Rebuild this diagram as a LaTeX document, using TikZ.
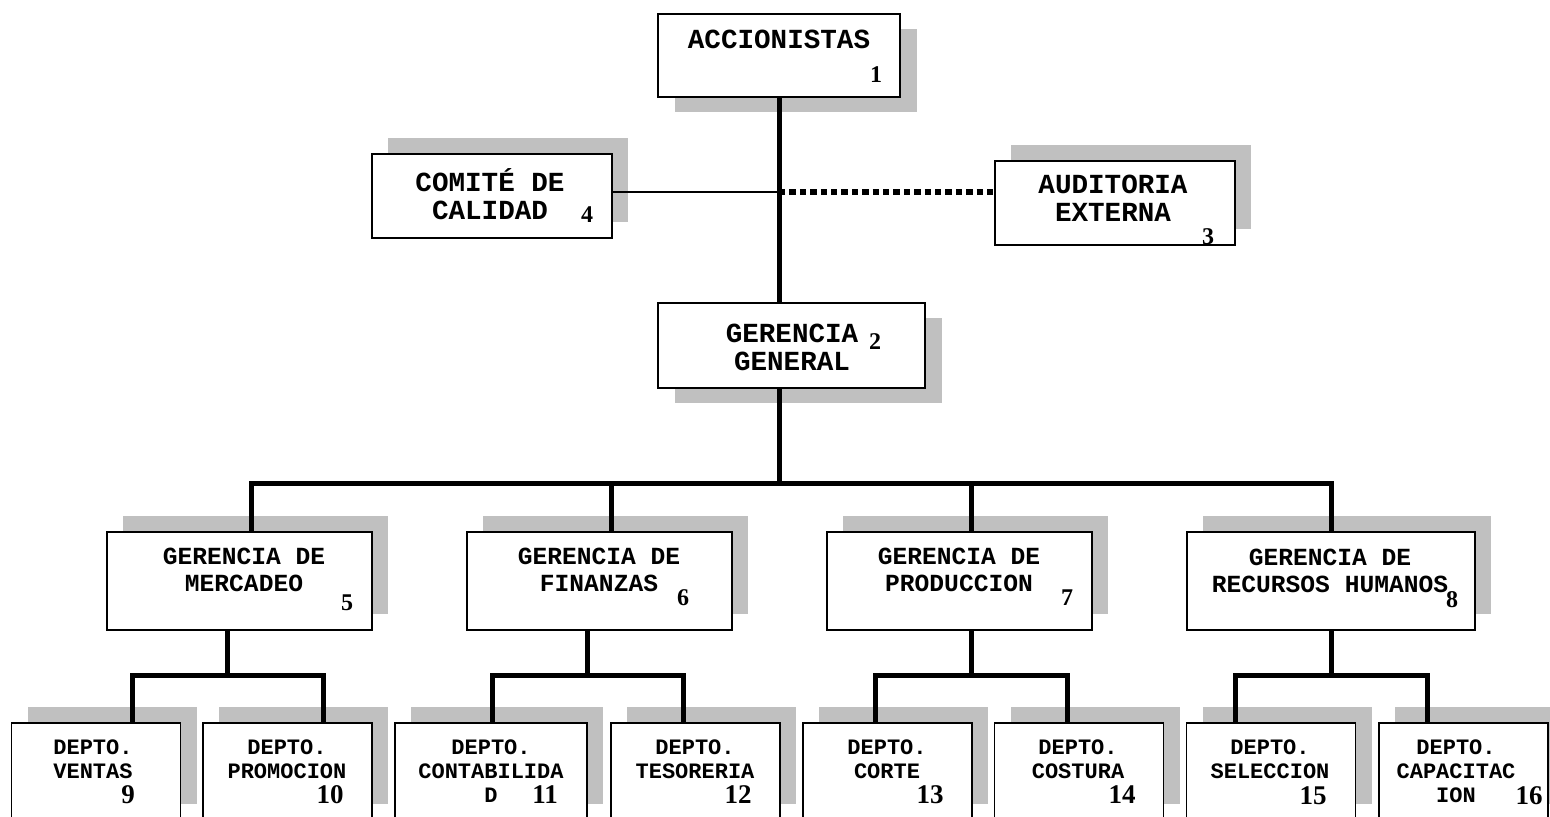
\documentclass[tikz,border=0pt]{standalone}
\usepackage{fontspec}
\newfontfamily\boxfont{Liberation Mono}
\newfontfamily\numfont{Liberation Serif}
\usetikzlibrary{shadows}
\definecolor{shadowgray}{RGB}{192,192,192}

\begin{document}
\begin{tikzpicture}[x=0.5pt,y=-0.5pt]
\tikzstyle{orgbox}=[draw,line width=0.9pt,fill=white,inner sep=0pt]
\tikzstyle{shup}=[orgbox,general shadow={fill=shadowgray,shadow xshift=8pt,shadow yshift=8pt}]
\tikzstyle{shdn}=[orgbox,general shadow={fill=shadowgray,shadow xshift=8.5pt,shadow yshift=-7.5pt}]
\tikzstyle{tA}=[font=\fontsize{13.8}{14}\selectfont\boxfont\bfseries,align=center,inner sep=0pt]
\tikzstyle{tB}=[font=\fontsize{12.3}{13.5}\selectfont\boxfont\bfseries,align=center,inner sep=0pt]
\tikzstyle{tC}=[font=\fontsize{11}{12}\selectfont\boxfont\bfseries,align=center,inner sep=0pt]
\tikzstyle{nA}=[font=\fontsize{12}{12}\selectfont\numfont\bfseries,inner sep=0pt]
\tikzstyle{nC}=[font=\fontsize{13.5}{12}\selectfont\numfont\bfseries,inner sep=0pt]
\tikzstyle{bar}=[line width=2.5pt]
\tikzstyle{dotline}=[line width=2.8pt,dash pattern=on 3.2pt off 2pt]

\useasboundingbox (0,0) rectangle (1550,817);
\clip (0,0) rectangle (1550,817);
\fill[white] (0,0) rectangle (1550,817);

% direccion
\node[shdn,minimum width=121pt,minimum height=41.5pt] (acc) at (779,55.5) {};
\node[shup,minimum width=120pt,minimum height=42pt] (com) at (492,196) {};
\node[shup,minimum width=120pt,minimum height=42pt] (aud) at (1115,203) {};
\node[shdn,minimum width=133.5pt,minimum height=42.5pt] (gg) at (791.5,345.5) {};

% gerencias
\node[shup,minimum width=132.5pt,minimum height=49pt] (mer) at (239.5,581) {};
\node[shup,minimum width=132.5pt,minimum height=49pt] (fin) at (599.5,581) {};
\node[shup,minimum width=132.5pt,minimum height=49pt] (pro) at (959.5,581) {};
\node[shup,minimum width=144pt,minimum height=49pt] (rh) at (1331,581) {};

% departamentos
\node[shup,minimum width=84.5pt,minimum height=48.5pt] (ven) at (96,771.5) {};
\node[shup,minimum width=84.5pt,minimum height=48.5pt] (prm) at (287.5,771.5) {};
\node[shup,minimum width=96pt,minimum height=48.5pt] (con) at (491,771.5) {};
\node[shup,minimum width=84.5pt,minimum height=48.5pt] (tes) at (695.5,771.5) {};
\node[shup,minimum width=84.5pt,minimum height=48.5pt] (cor) at (887.5,771.5) {};
\node[shup,minimum width=84.5pt,minimum height=48.5pt] (cos) at (1079,771.5) {};
\node[shup,minimum width=84.5pt,minimum height=48.5pt] (sel) at (1271,771.5) {};
\node[shup,minimum width=84.5pt,minimum height=48.5pt] (cap) at (1463.5,771.5) {};

% textos
\node[tA] (acc-t) at (779,39) {ACCIONISTAS};
\node[tA] (com-t) at (490,194) {COMITÉ DE\\CALIDAD};
\node[tA] (aud-t) at (1113,198) {AUDITORIA\\EXTERNA};
\node[tA] (gg-t) at (792,347) {GERENCIA\\GENERAL};
\node[tB] (mer-t) at (244,570) {GERENCIA DE\\MERCADEO};
\node[tB] (fin-t) at (599,570) {GERENCIA DE\\FINANZAS};
\node[tB] (pro-t) at (959,570) {GERENCIA DE\\PRODUCCION};
\node[tB] (rh-t) at (1330,571) {GERENCIA DE\\RECURSOS HUMANOS};
\node[tC] (ven-t) at (93,759) {DEPTO.\\VENTAS};
\node[tC] (prm-t) at (287,759) {DEPTO.\\PROMOCION};
\node[tC] (con-t) at (491,771) {DEPTO.\\CONTABILIDA\\D};
\node[tC] (tes-t) at (695,759) {DEPTO.\\TESORERIA};
\node[tC] (cor-t) at (887,759) {DEPTO.\\CORTE};
\node[tC] (cos-t) at (1078,759) {DEPTO.\\COSTURA};
\node[tC] (sel-t) at (1270,759) {DEPTO.\\SELECCION};
\node[tC] (cap-t) at (1456,771) {DEPTO.\\CAPACITAC\\ION};

% numeros
\node[nA] (acc-n) at (876,75) {1};
\node[nA] (gg-n) at (875,342) {2};
\node[nA] (aud-n) at (1208,237) {3};
\node[nA] (com-n) at (587,215) {4};
\node[nA] (mer-n) at (347,603) {5};
\node[nA] (fin-n) at (683,598) {6};
\node[nA] (pro-n) at (1067,598) {7};
\node[nA] (rh-n) at (1452,600) {8};
\node[nC] (ven-n) at (128,795) {9};
\node[nC] (prm-n) at (330,795) {10};
\node[nC] (con-n) at (545,795) {11};
\node[nC] (tes-n) at (738,795) {12};
\node[nC] (cor-n) at (930,795) {13};
\node[nC] (cos-n) at (1122,795) {14};
\node[nC] (sel-n) at (1313,796) {15};
\node[nC] (cap-n) at (1529,796) {16};

% lineas
\coordinate (jc) at (779,192);
\coordinate (bus) at (779,483);
\coordinate (sub) at (0,675);

\draw[bar] (acc.south) -- (acc.south |- gg.north);
\draw[line width=0.8pt] (com.east |- jc) -- (jc);
\draw[dotline] (jc) -- (aud.west |- jc);
\draw[bar] (acc.south |- gg.south) -- (bus);
\draw[bar] ([xshift=6pt]mer.north) |- (bus) -| (rh.north);
\foreach \b in {fin,pro}
\draw[bar] ([xshift=6pt]\b.north) -- ([xshift=6pt]\b.north |- bus);

\foreach \pnode/\pshift/\lnode/\lshift/\rnode/\rshift in {mer/-6/ven/18/prm/18, fin/-6/con/0.5/tes/-6, pro/6/cor/-6/cos/-6, rh/0/sel/-18/cap/-18}{
\draw[bar] ([xshift=\pshift pt]\pnode.south) -- ([xshift=\pshift pt]\pnode.south |- sub);
\draw[bar] ([xshift=\lshift pt]\lnode.north) |- ([xshift=\rshift pt]\rnode.north |- sub) -- ([xshift=\rshift pt]\rnode.north);
}

\end{tikzpicture}
\end{document}
